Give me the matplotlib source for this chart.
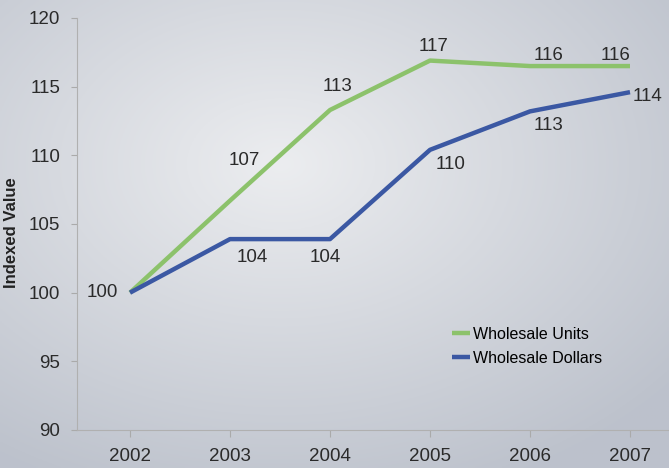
import numpy as np
import matplotlib
matplotlib.use("Agg")
import matplotlib.pyplot as plt

years = [2002, 2003, 2004, 2005, 2006, 2007]
units = [100, 106.7, 113.3, 116.9, 116.5, 116.5]
dollars = [100, 103.9, 103.9, 110.4, 113.2, 114.6]
units_labels = ["100", "107", "113", "117", "116", "116"]
dollars_labels = ["", "104", "104", "110", "113", "114"]

plt.rcParams['font.family'] = ['Liberation Sans', 'DejaVu Sans']

fig = plt.figure(figsize=(6.69, 4.68), dpi=100)

# scanned-page background: light in the middle, greyer towards the edges
bg = fig.add_axes([0, 0, 1, 1])
yy, xx = np.mgrid[0:1:200j, 0:1:300j]
r = np.sqrt(((xx - 0.42) / 0.75) ** 2 + ((yy - 0.35) / 0.75) ** 2)
light = np.array([0.925, 0.93, 0.94])
dark = np.array([0.74, 0.76, 0.80])
t = np.clip(r, 0, 1)[..., None]
bg.imshow(light * (1 - t) + dark * t, aspect='auto', extent=[0, 1, 0, 1])
bg.axis('off')

ax = fig.add_axes([77 / 669, 1 - 430 / 468, 1 - 77 / 669, (430 - 18) / 468])
ax.patch.set_alpha(0)

ax.plot(years, units, color='#8cc26b', lw=3.2, label='Wholesale Units', solid_capstyle='butt')
ax.plot(years, dollars, color='#3b58a3', lw=3.2, label='Wholesale Dollars', solid_capstyle='butt')

ax.set_xlim(2001.47, 2007.39)
ax.set_ylim(90, 120)
ax.set_xticks(years)
ax.set_yticks(range(90, 121, 5))
ax.tick_params(axis='both', labelsize=13.5, colors='#aaaaaa', labelcolor='#2a2a2a')
ax.tick_params(axis='x', length=5, pad=8)
ax.tick_params(axis='y', length=4, pad=8)
for s in ['top', 'right']:
    ax.spines[s].set_visible(False)
for s in ['left', 'bottom']:
    ax.spines[s].set_color('#b0b0b0')
ax.set_ylabel('Indexed Value', fontsize=12, fontweight='bold', color='#222222', labelpad=4)
ax.yaxis.set_label_coords(-0.098, 0.48)

# offsets (pixels) of each value label from its point
u_off = [(-28, 0), (14, 40), (8, 24), (4, 14), (19, 11), (-14, 11)]
d_off = [(0, 0), (22, -18), (-5, -18), (21, -15), (19, -14), (18, -4)]
for x, y, s, o in zip(years, units, units_labels, u_off):
    ax.annotate(s, (x, y), xytext=o, textcoords='offset pixels', ha='center', va='center',
                fontsize=13.5, color='#2a2a2a')
for x, y, s, o in zip(years, dollars, dollars_labels, d_off):
    if s:
        ax.annotate(s, (x, y), xytext=o, textcoords='offset pixels', ha='center', va='center',
                    fontsize=13.5, color='#2a2a2a')

ax.legend(loc='upper left', bbox_to_anchor=(0.61, 0.285), frameon=False, fontsize=11.5,
          handlelength=1.1, handletextpad=0.2, labelspacing=0.55)

fig.savefig('out.png', dpi=100)
